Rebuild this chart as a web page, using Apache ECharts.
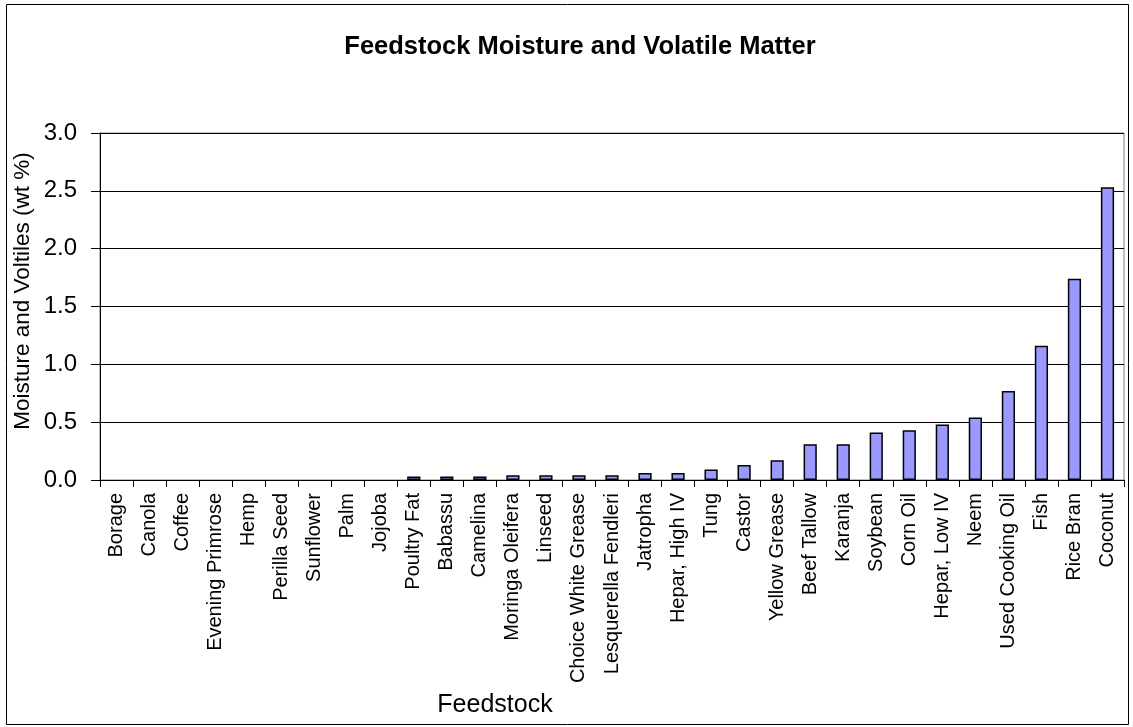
<!DOCTYPE html>
<html>
<head>
<meta charset="utf-8">
<script src="https://cdn.jsdelivr.net/npm/echarts@6/dist/echarts.min.js"></script>
<style>
html,body{margin:0;padding:0;background:#fff;}
#chart{width:1133px;height:727px;}
</style>
</head>
<body>
<div id="chart"></div>
<script>
const categories = ["Borage","Canola","Coffee","Evening Primrose","Hemp","Perilla Seed","Sunflower","Palm","Jojoba","Poultry Fat","Babassu","Camelina","Moringa Oleifera","Linseed","Choice White Grease","Lesquerella Fendleri","Jatropha","Hepar, High IV","Tung","Castor","Yellow Grease","Beef Tallow","Karanja","Soybean","Corn Oil","Hepar, Low IV","Neem","Used Cooking Oil","Fish","Rice Bran","Coconut"];
const moistureVolatiles = [0,0,0,0,0,0,0,0,0,0.03,0.03,0.03,0.04,0.04,0.04,0.04,0.06,0.06,0.09,0.13,0.17,0.31,0.31,0.41,0.43,0.48,0.54,0.77,1.16,1.74,2.53];
const yTicks = [0,0.5,1,1.5,2,2.5,3];
const chartTitle = "Feedstock Moisture and Volatile Matter";
const xTitle = "Feedstock";
const yTitle = "Moisture and Voltiles (wt %)";

const FONT = "'Liberation Sans', Arial, sans-serif";
const chart = echarts.init(document.getElementById('chart'), null, {renderer:'canvas'});
chart.setOption({
  backgroundColor:'#fff',
  animation:false,
  title:[
    {text:chartTitle, left:575, top:42, textAlign:'center', textVerticalAlign:'middle',
     textStyle:{fontFamily:FONT, fontWeight:'bold', fontSize:25.5, color:'#000'}},
    {text:xTitle, left:490, top:700, textAlign:'center', textVerticalAlign:'middle',
     textStyle:{fontFamily:FONT, fontWeight:'normal', fontSize:25, color:'#000'}}
  ],
  graphic:[
    {type:'rect', shape:{x:6.5, y:4.5, width:1122, height:720}, style:{fill:null, stroke:'#000', lineWidth:1}, silent:true, z:-1},
    {type:'text', x:23, y:291, rotation:Math.PI/2, silent:true,
     style:{text:yTitle, fontFamily:FONT, fontSize:22.5, fill:'#000', textAlign:'center', textVerticalAlign:'middle'}}
  ],
  grid:{left:100, right:9, top:133, bottom:247, show:true, borderColor:'#808080', borderWidth:1, backgroundColor:'transparent'},
  xAxis:{
    type:'category', data:categories,
    axisLine:{show:true, lineStyle:{color:'#000', width:1}},
    axisTick:{show:true, alignWithLabel:false, length:7, lineStyle:{color:'#000'}},
    axisLabel:{rotate:90, margin:13, interval:0, fontFamily:FONT, fontSize:20, color:'#000'}
  },
  yAxis:{
    type:'value', min:0, max:3, interval:0.5,
    axisLine:{show:true, lineStyle:{color:'#000', width:1}},
    axisTick:{show:true, inside:false, length:9, lineStyle:{color:'#000'}},
    axisLabel:{margin:23, fontFamily:FONT, fontSize:24, color:'#000', formatter:v=>v.toFixed(1)},
    splitLine:{show:true, lineStyle:{color:'#000', width:1}}
  },
  series:[{
    type:'bar',
    data:moistureVolatiles.map(v => v === 0 ? {value:v, itemStyle:{borderWidth:0}} : v),
    barWidth:'40%',
    itemStyle:{color:'#9999FF', borderColor:'#000', borderWidth:1.5}
  }]
});
</script>
</body>
</html>
